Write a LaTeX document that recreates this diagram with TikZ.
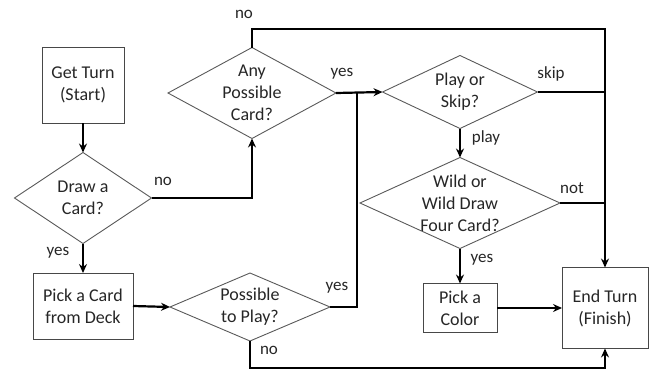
\documentclass[tikz,border=0pt]{standalone}
\usepackage{fontspec}
\setmainfont{Carlito}
\usetikzlibrary{shapes.geometric,arrows.meta}
\begin{document}
\begin{tikzpicture}[x=1pt,y=-1pt,
  box/.style={draw=black!72,line width=0.9pt,rectangle,inner sep=0pt,outer sep=0pt},
  dia/.style={draw=black!65,line width=0.9pt,diamond,inner sep=0pt,outer sep=0pt},
  txt/.style={align=center,font=\fontsize{18}{22}\selectfont,inner sep=0pt,text=black!85},
  lbl/.style={font=\fontsize{17}{20}\selectfont,inner sep=0pt,text=black!85},
  conn/.style={line width=2.2pt,line join=miter},
  arr/.style={conn,-{Stealth[length=9pt,width=8pt,inset=3pt]}}]
\useasboundingbox (0,0) rectangle (654,370);
% shapes
\node[box,minimum width=82pt,minimum height=76pt] (start) at (83,85) {};
\node[txt] at (start) {Get Turn\\(Start)};
\node[dia,minimum width=137pt,minimum height=91pt] (drawc) at (83,198) {};
\node[txt] at (drawc) {Draw a\\Card?};
\node[box,minimum width=100pt,minimum height=66pt] (pick) at (83,306) {};
\node[txt] at (pick) {Pick a Card\\from Deck};
\node[dia,minimum width=160pt,minimum height=68pt] (poss) at (250,307) {};
\node[txt] at (poss) {Possible\\to Play?};
\node[dia,minimum width=168pt,minimum height=91pt] (any) at (252,93) {};
\node[txt] at (any) {Any\\Possible\\Card?};
\node[dia,minimum width=155pt,minimum height=73pt] (play) at (460,92) {};
\node[txt] at (play) {Play or\\Skip?};
\node[dia,minimum width=200pt,minimum height=91pt] (wild) at (460,203) {};
\node[txt] at (wild) {Wild or\\Wild Draw\\Four Card?};
\node[box,minimum width=74pt,minimum height=49pt] (color) at (460,308) {};
\node[txt] at (color) {Pick a\\Color};
\node[box,minimum width=86pt,minimum height=81pt] (end) at (605,308) {};
\node[txt] at (end) {End Turn\\(Finish)};
% helper coordinates
\coordinate (j) at (357,92);
\coordinate (tr) at (605,29);
\coordinate (br) at (605,368);
% connectors
\draw[arr] (start.south) -- (drawc.north);
\draw[arr] (drawc.south) -- (pick.north);
\draw[arr] (drawc.east) -| (any.south);
\draw[arr] (pick.east) -- (poss.west);
\draw[arr] (any.east) -- (play.west);
\draw[conn] (poss.east) -| (j);
\draw[arr] (any.north) |- (tr) -- (end.north);
\draw[conn] (play.east) -- (play.east -| end.north);
\draw[conn] (wild.east) -- (wild.east -| end.north);
\draw[arr] (play.south) -- (wild.north);
\draw[arr] (wild.south) -- (color.north);
\draw[arr] (color.east) -- (end.west);
\draw[arr] (poss.south) |- (br) -- (end.south);
% labels
\node[lbl] (l1) at (244,14) {no};
\node[lbl] (l2) at (342,74) {yes};
\node[lbl] (l3) at (163,181) {no};
\node[lbl] (l4) at (58,253) {yes};
\node[lbl] (l5) at (551,74) {skip};
\node[lbl] (l6) at (486,138) {play};
\node[lbl] (l7) at (572,188) {not};
\node[lbl] (l8) at (482,260) {yes};
\node[lbl] (l9) at (337,288) {yes};
\node[lbl] (l10) at (269,350) {no};
\end{tikzpicture}
\end{document}
